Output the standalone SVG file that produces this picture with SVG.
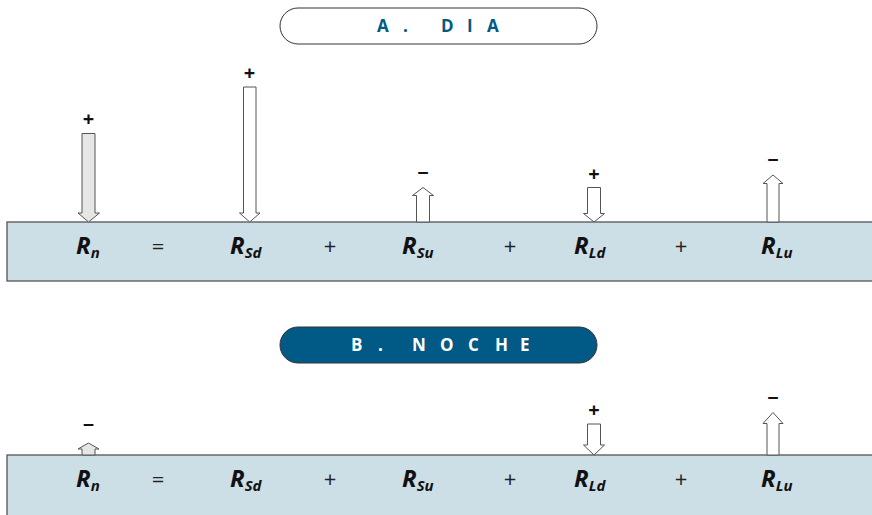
<svg xmlns="http://www.w3.org/2000/svg" width="872" height="515" viewBox="0 0 872 515">
<style>
.band{fill:#cddfe6;stroke:#555;stroke-width:1.3}
.arW{fill:#fff;stroke:#555;stroke-width:1}
.arG{fill:#e6e6e6;stroke:#555;stroke-width:1}
.sign{font-family:"Open Sans","Liberation Sans",sans-serif;font-weight:bold;font-size:20px;fill:#111;text-anchor:middle}
.lbl{font-family:"Open Sans","Liberation Sans",sans-serif;font-weight:bold;font-style:italic;font-size:24px;fill:#111}
.sub{font-size:15px}
.op{font-family:"Open Sans","Liberation Sans",sans-serif;font-size:22px;fill:#222;text-anchor:middle}
.pill{stroke:#333;stroke-width:1}
.pt{font-family:"Open Sans","Liberation Sans",sans-serif;font-weight:bold;font-size:17px}
</style>
<g id="titleA">
<rect class="pill" x="280" y="8" width="317" height="36" rx="18" fill="#fff"/>
<text class="pt" fill="#005a82" x="377 403 425 441 467 487" y="32">A. DIA</text>
</g>
<g id="bandA">
<rect class="band" x="7" y="222" width="870" height="59"/>
</g>
<g id="connectorsA">
<path class="arG" d="M82 133.5H95V213H99.5L88.5 222L78 213H82Z"/>
<path class="arW" d="M243.5 87H256V213H260L249.75 222L239.5 213H243.5Z"/>
<path class="arW" d="M416.5 222V195.5H412.5L423 187.5L433.5 195.5H429.5V222Z"/>
<path class="arW" d="M587.5 187.5H600.5V213.5H604.5L594 222L583.5 213.5H587.5Z"/>
<path class="arW" d="M767 222V183.5H763L773 175L783 183.5H779V222Z"/>
</g>
<g id="signsA">
<text class="sign" x="88.5" y="126">+</text>
<text class="sign" x="249.5" y="80">+</text>
<text class="sign" x="423" y="180">−</text>
<text class="sign" x="594" y="181">+</text>
<text class="sign" x="773" y="167">−</text>
</g>
<g id="eqA">
<text class="lbl" x="76" y="254">R<tspan class="sub" dy="4">n</tspan></text>
<text class="op" x="158" y="254">=</text>
<text class="lbl" x="230" y="254">R<tspan class="sub" dy="4">Sd</tspan></text>
<text class="op" x="330" y="254">+</text>
<text class="lbl" x="402" y="254">R<tspan class="sub" dy="4">Su</tspan></text>
<text class="op" x="510" y="254">+</text>
<text class="lbl" x="574" y="254">R<tspan class="sub" dy="4">Ld</tspan></text>
<text class="op" x="681" y="254">+</text>
<text class="lbl" x="761" y="254">R<tspan class="sub" dy="4">Lu</tspan></text>
</g>
<g id="titleB">
<rect class="pill" x="280" y="327" width="317" height="36" rx="18" fill="#005a85"/>
<text class="pt" fill="#fff" x="351 378 400 412 440 468 495 520" y="351">B. NOCHE</text>
</g>
<g id="bandB">
<rect class="band" x="7" y="455" width="870" height="70"/>
</g>
<g id="connectorsB">
<path class="arG" d="M82 455V449H78L88.5 443L99 449H95V455Z"/>
<path class="arW" d="M587.5 424H600.5V445H604.5L594 455L583.5 445H587.5Z"/>
<path class="arW" d="M767 455V423.5H763L773 412.5L783 423.5H779V455Z"/>
</g>
<g id="signsB">
<text class="sign" x="88.5" y="432">−</text>
<text class="sign" x="594" y="417">+</text>
<text class="sign" x="773" y="405">−</text>
</g>
<g id="eqB">
<text class="lbl" x="76" y="487">R<tspan class="sub" dy="4">n</tspan></text>
<text class="op" x="158" y="487">=</text>
<text class="lbl" x="230" y="487">R<tspan class="sub" dy="4">Sd</tspan></text>
<text class="op" x="330" y="487">+</text>
<text class="lbl" x="402" y="487">R<tspan class="sub" dy="4">Su</tspan></text>
<text class="op" x="510" y="487">+</text>
<text class="lbl" x="574" y="487">R<tspan class="sub" dy="4">Ld</tspan></text>
<text class="op" x="681" y="487">+</text>
<text class="lbl" x="761" y="487">R<tspan class="sub" dy="4">Lu</tspan></text>
</g>
</svg>
